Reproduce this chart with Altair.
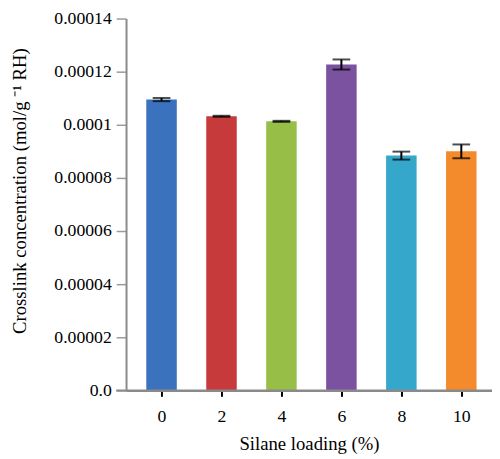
import altair as alt
import pandas as pd

loading = [0, 2, 4, 6, 8, 10]
conc = [0.0001095, 0.0001032, 0.0001013, 0.0001227, 0.0000884, 0.0000900]
err = [0.0000006, 0.0000002, 0.0000002, 0.0000019, 0.0000015, 0.0000026]
colors = ["#3b72bd", "#c63a3b", "#97bf47", "#7b52a0", "#35a7cb", "#f38a2b"]

ytick_values = [0, 0.00002, 0.00004, 0.00006, 0.00008, 0.0001, 0.00012, 0.00014]
ytick_labels = ["0.0", "0.00002", "0.00004", "0.00006", "0.00008", "0.0001", "0.00012", "0.00014"]
xtick_values = [0, 2, 4, 6, 8, 10]

df = pd.DataFrame({
    "loading": loading,
    "conc": conc,
    "lo": [c - e for c, e in zip(conc, err)],
    "hi": [c + e for c, e in zip(conc, err)],
    "color": colors,
})

label_expr = " : ".join(
    f"abs(datum.value - {v}) < 1e-9 ? '{l}'" for v, l in zip(ytick_values, ytick_labels)
) + " : ''"

FONT = "Liberation Serif"
W, H = 372, 378

xscale = alt.Scale(domain=[-1.02, 10.86], nice=False, zero=False)
yscale = alt.Scale(domain=[0, 0.00014], nice=False)

xaxis = alt.Axis(values=xtick_values, title="Silane loading (%)",
                 labelFont=FONT, labelFontSize=18, labelColor="black",
                 titleFont=FONT, titleFontSize=19, titleFontWeight="normal",
                 titleColor="black", titleY=54, titleBaseline="middle",
                 domainColor="#8a8a8a", domainWidth=2,
                 tickColor="black", tickWidth=2, tickSize=6,
                 labelPadding=12, grid=False, labelFlush=False)
yaxis = alt.Axis(values=ytick_values, labelExpr=label_expr,
                 title="Crosslink concentration (mol/g ⁻¹ RH)",
                 labelFont=FONT, labelFontSize=18, labelColor="black",
                 titleFont=FONT, titleFontSize=19, titleFontWeight="normal",
                 titleColor="black", titleX=-108, titleY=H / 2 - 14,
                 titleBaseline="middle", titleAlign="center",
                 domainColor="#8a8a8a", domainWidth=2,
                 tickColor="#9a9a9a", tickWidth=1.5, tickSize=10,
                 labelPadding=5, grid=False, labelFlush=False)

base = alt.Chart(df)

bars = base.mark_bar(size=31).encode(
    x=alt.X("loading:Q", scale=xscale, axis=xaxis),
    y=alt.Y("conc:Q", scale=yscale, axis=yaxis),
    color=alt.Color("color:N", scale=None),
)

baseline = alt.Chart(pd.DataFrame({"v": [0]})).mark_rule(color="#8a8a8a", strokeWidth=2).encode(
    x=alt.value(-10), x2=alt.value(W), y=alt.Y("v:Q", scale=yscale, axis=yaxis)
)

err_rule = base.mark_rule(color="black", strokeWidth=2).encode(
    x=alt.X("loading:Q", scale=xscale, axis=xaxis),
    y=alt.Y("lo:Q", scale=yscale, axis=yaxis), y2="hi:Q"
)
cap_hi = base.mark_tick(color="black", orient="horizontal", size=18, thickness=2).encode(
    x=alt.X("loading:Q", scale=xscale, axis=xaxis), y=alt.Y("hi:Q", scale=yscale, axis=yaxis)
)
cap_lo = base.mark_tick(color="black", orient="horizontal", size=18, thickness=2).encode(
    x=alt.X("loading:Q", scale=xscale, axis=xaxis), y=alt.Y("lo:Q", scale=yscale, axis=yaxis)
)

chart = alt.layer(bars, baseline, err_rule, cap_hi, cap_lo).properties(
    width=W, height=H,
    autosize=alt.AutoSizeParams(type="none"),
    padding={"left": 120, "top": 7, "right": 0, "bottom": 66},
    background="white",
).configure_view(stroke=None).configure_axis(
    labelFont=FONT, labelFontSize=18, labelColor="black",
    titleFont=FONT, titleFontWeight="normal", titleColor="black",
)

chart.save("out.html", embed_options={"renderer": "svg", "actions": False})
